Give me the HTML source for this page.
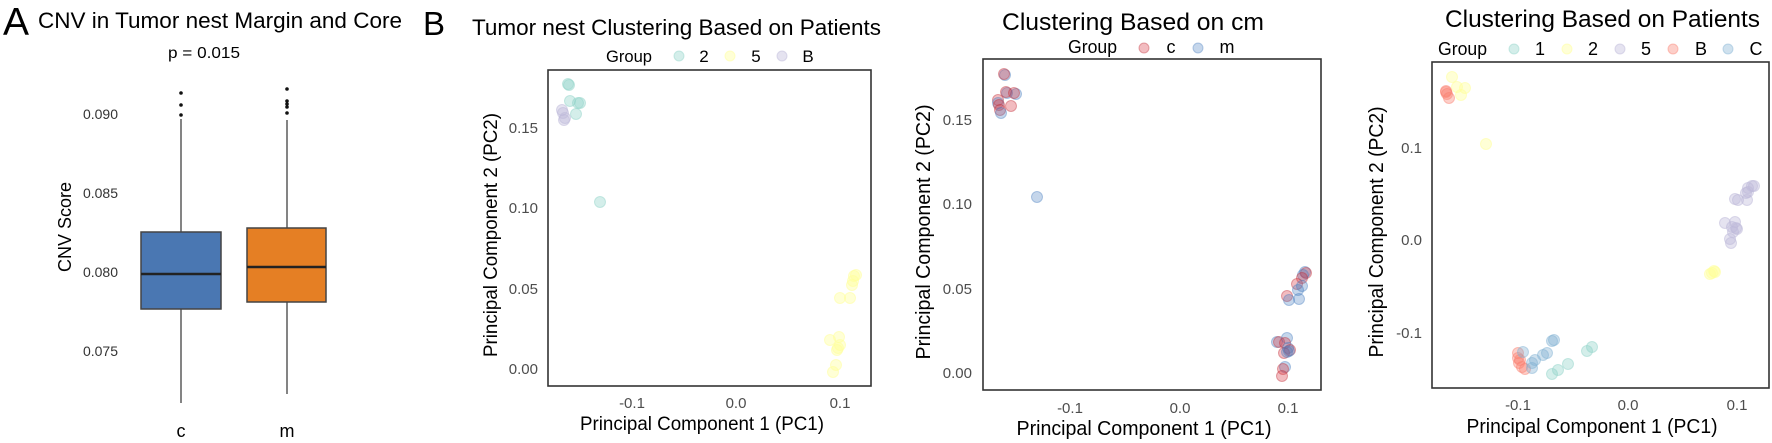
<!DOCTYPE html>
<html><head><meta charset="utf-8"><style>
html,body{margin:0;padding:0;background:#fff;}
svg{display:block;font-family:"Liberation Sans",Arial,sans-serif;}
.tk{font-size:15px;fill:#4d4d4d;}
.g{fill:#8dd3c7;fill-opacity:.38;stroke:#8dd3c7;stroke-opacity:.45;stroke-width:1}
.y{fill:#ffff99;fill-opacity:.4;stroke:#ffff99;stroke-opacity:.5;stroke-width:1}
.p{fill:#bebada;fill-opacity:.4;stroke:#bebada;stroke-opacity:.5;stroke-width:1}
.r{fill:#fb8072;fill-opacity:.38;stroke:#fb8072;stroke-opacity:.45;stroke-width:1}
.b{fill:#80b1d3;fill-opacity:.38;stroke:#80b1d3;stroke-opacity:.45;stroke-width:1}
.c{fill:#d7303a;fill-opacity:.32;stroke:#c0303a;stroke-opacity:.4;stroke-width:1}
.m{fill:#4a7fc0;fill-opacity:.32;stroke:#4a7fc0;stroke-opacity:.4;stroke-width:1}
</style></head><body>
<svg width="1772" height="443" viewBox="0 0 1772 443" xmlns="http://www.w3.org/2000/svg">
<rect width="1772" height="443" fill="#fff"/>

<!-- Panel A -->
<text x="3" y="35" font-size="39" fill="#000">A</text>
<text x="38" y="28" font-size="22" fill="#000" textLength="364" lengthAdjust="spacingAndGlyphs">CNV in Tumor nest Margin and Core</text>
<text x="204" y="58" font-size="16" fill="#000" text-anchor="middle" textLength="72" lengthAdjust="spacingAndGlyphs">p = 0.015</text>
<g font-size="14" fill="#333" text-anchor="end">
<text x="118" y="119">0.090</text>
<text x="118" y="198">0.085</text>
<text x="118" y="277">0.080</text>
<text x="118" y="356">0.075</text>
</g>
<text transform="translate(71,227) rotate(-90)" font-size="18" fill="#000" text-anchor="middle">CNV Score</text>
<g stroke="#666" stroke-width="1.6">
<line x1="181" y1="119" x2="181" y2="232"/><line x1="181" y1="309" x2="181" y2="403"/>
<line x1="287" y1="120" x2="287" y2="228"/><line x1="287" y1="302" x2="287" y2="394"/>
</g>
<rect x="141" y="232" width="80" height="77" fill="#4a77b2" stroke="#444" stroke-width="1.5"/>
<line x1="141" y1="274" x2="221" y2="274" stroke="#222" stroke-width="2.5"/>
<rect x="247" y="228" width="79" height="74" fill="#e57f24" stroke="#444" stroke-width="1.5"/>
<line x1="247" y1="267" x2="326" y2="267" stroke="#222" stroke-width="2.5"/>
<g fill="#111">
<circle cx="181" cy="93" r="1.8"/><circle cx="181" cy="105" r="1.8"/><circle cx="181" cy="115" r="1.8"/>
<circle cx="287" cy="89" r="1.8"/><circle cx="287" cy="101" r="1.8"/><circle cx="287" cy="104" r="1.8"/><circle cx="287" cy="107" r="1.8"/><circle cx="287" cy="113" r="1.8"/>
</g>
<text x="181" y="437" font-size="18" fill="#000" text-anchor="middle">c</text>
<text x="287" y="437" font-size="18" fill="#000" text-anchor="middle">m</text>

<!-- Panel B1 -->
<text x="423" y="35" font-size="33" fill="#000">B</text>
<text x="472" y="35" font-size="22" fill="#000" textLength="409" lengthAdjust="spacingAndGlyphs">Tumor nest Clustering Based on Patients</text>
<g font-size="17" fill="#000">
<text x="606" y="62" textLength="46" lengthAdjust="spacingAndGlyphs">Group</text>
<text x="704" y="62" text-anchor="middle">2</text>
<text x="756" y="62" text-anchor="middle">5</text>
<text x="808" y="62" text-anchor="middle">B</text>
</g>
<circle class="g" cx="679" cy="56" r="5"/><circle class="y" cx="730" cy="56" r="5"/><circle class="p" cx="782" cy="56" r="5"/>
<rect x="548" y="70" width="323" height="316" fill="none" stroke="#333" stroke-width="1.6"/>
<g class="tk" text-anchor="end">
<text x="538" y="133">0.15</text><text x="538" y="213">0.10</text><text x="538" y="294">0.05</text><text x="538" y="374">0.00</text>
</g>
<g class="tk" text-anchor="middle">
<text x="632" y="408">-0.1</text><text x="736" y="408">0.0</text><text x="840" y="408">0.1</text>
</g>
<text x="702" y="430" font-size="19" fill="#000" text-anchor="middle" textLength="244" lengthAdjust="spacingAndGlyphs">Principal Component 1 (PC1)</text>
<text transform="translate(497,235) rotate(-90)" font-size="19" fill="#000" text-anchor="middle" textLength="244" lengthAdjust="spacingAndGlyphs">Principal Component 2 (PC2)</text>
<g>
<circle class="g" cx="568" cy="84" r="5.5"/><circle class="g" cx="569" cy="85" r="5.5"/><circle class="g" cx="570" cy="101" r="5.5"/><circle class="g" cx="578" cy="103" r="5.5"/><circle class="g" cx="580" cy="103" r="5.5"/><circle class="g" cx="576" cy="114" r="5.5"/><circle class="g" cx="600" cy="202" r="5.5"/>
<circle class="p" cx="562" cy="110" r="5.5"/><circle class="p" cx="563" cy="113" r="5.5"/><circle class="p" cx="564" cy="120" r="5.5"/><circle class="p" cx="565" cy="118" r="5.5"/>
<circle class="y" cx="856" cy="275" r="5.5"/><circle class="y" cx="854" cy="276" r="5.5"/><circle class="y" cx="852" cy="285" r="5.5"/><circle class="y" cx="853" cy="281" r="5.5"/><circle class="y" cx="840" cy="298" r="5.5"/><circle class="y" cx="850" cy="298" r="5.5"/>
<circle class="y" cx="830" cy="340" r="5.5"/><circle class="y" cx="839" cy="337" r="5.5"/><circle class="y" cx="838" cy="348" r="5.5"/><circle class="y" cx="840" cy="345" r="5.5"/><circle class="y" cx="837" cy="350" r="5.5"/><circle class="y" cx="836" cy="365" r="5.5"/><circle class="y" cx="833" cy="372" r="5.5"/>
</g>

<!-- Panel B2 -->
<text x="1002" y="30" font-size="24" fill="#000" textLength="262" lengthAdjust="spacingAndGlyphs">Clustering Based on cm</text>
<g font-size="18" fill="#000">
<text x="1068" y="53" textLength="49" lengthAdjust="spacingAndGlyphs">Group</text>
<text x="1171" y="53" text-anchor="middle">c</text>
<text x="1227" y="53" text-anchor="middle">m</text>
</g>
<circle class="c" cx="1144" cy="48" r="5"/><circle class="m" cx="1198" cy="48" r="5"/>
<rect x="983" y="59" width="338" height="331" fill="none" stroke="#333" stroke-width="1.6"/>
<g class="tk" text-anchor="end" font-size="16">
<text x="972" y="125">0.15</text><text x="972" y="209">0.10</text><text x="972" y="294">0.05</text><text x="972" y="378">0.00</text>
</g>
<g class="tk" text-anchor="middle" font-size="16">
<text x="1070" y="413">-0.1</text><text x="1180" y="413">0.0</text><text x="1288" y="413">0.1</text>
</g>
<text x="1144" y="435" font-size="20" fill="#000" text-anchor="middle" textLength="255" lengthAdjust="spacingAndGlyphs">Principal Component 1 (PC1)</text>
<text transform="translate(930,232) rotate(-90)" font-size="20" fill="#000" text-anchor="middle" textLength="255" lengthAdjust="spacingAndGlyphs">Principal Component 2 (PC2)</text>
<g>
<circle class="m" cx="1005" cy="75" r="5.5"/><circle class="c" cx="1004" cy="74" r="5.5"/>
<circle class="m" cx="1007" cy="93" r="5.5"/><circle class="c" cx="1006" cy="92" r="5.5"/>
<circle class="m" cx="1016" cy="94" r="5.5"/><circle class="c" cx="1014" cy="93" r="5.5"/>
<circle class="c" cx="998" cy="100" r="5.5"/><circle class="m" cx="998" cy="103" r="5.5"/><circle class="c" cx="999" cy="105" r="5.5"/>
<circle class="c" cx="1000" cy="110" r="5.5"/><circle class="m" cx="1001" cy="113" r="5.5"/>
<circle class="c" cx="1011" cy="106" r="5.5"/>
<circle class="m" cx="1037" cy="197" r="5.5"/>
<circle class="m" cx="1305" cy="272" r="5.5"/><circle class="c" cx="1306" cy="273" r="5.5"/><circle class="m" cx="1303" cy="275" r="5.5"/><circle class="c" cx="1302" cy="278" r="5.5"/>
<circle class="c" cx="1297" cy="284" r="5.5"/><circle class="m" cx="1302" cy="286" r="5.5"/><circle class="m" cx="1298" cy="290" r="5.5"/>
<circle class="c" cx="1287" cy="296" r="5.5"/><circle class="m" cx="1289" cy="300" r="5.5"/><circle class="m" cx="1299" cy="299" r="5.5"/>
<circle class="m" cx="1277" cy="342" r="5.5"/><circle class="c" cx="1279" cy="342" r="5.5"/><circle class="m" cx="1287" cy="338" r="5.5"/><circle class="c" cx="1285" cy="343" r="5.5"/>
<circle class="m" cx="1288" cy="348" r="5.5"/><circle class="c" cx="1290" cy="350" r="5.5"/><circle class="c" cx="1284" cy="353" r="5.5"/><circle class="m" cx="1287" cy="352" r="5.5"/><circle class="m" cx="1289" cy="351" r="5.5"/>
<circle class="m" cx="1285" cy="367" r="5.5"/><circle class="c" cx="1283" cy="369" r="5.5"/><circle class="c" cx="1282" cy="376" r="5.5"/>
</g>

<!-- Panel B3 -->
<text x="1445" y="27" font-size="24" fill="#000" textLength="315" lengthAdjust="spacingAndGlyphs">Clustering Based on Patients</text>
<g font-size="18" fill="#000">
<text x="1438" y="55" textLength="49" lengthAdjust="spacingAndGlyphs">Group</text>
<text x="1540" y="55" text-anchor="middle">1</text>
<text x="1593" y="55" text-anchor="middle">2</text>
<text x="1646" y="55" text-anchor="middle">5</text>
<text x="1701" y="55" text-anchor="middle">B</text>
<text x="1756" y="55" text-anchor="middle">C</text>
</g>
<circle class="g" cx="1514" cy="49" r="5"/><circle class="y" cx="1567" cy="49" r="5"/><circle class="p" cx="1620" cy="49" r="5"/><circle class="r" cx="1673" cy="49" r="5"/><circle class="b" cx="1728" cy="49" r="5"/>
<rect x="1432" y="62" width="337" height="326" fill="none" stroke="#333" stroke-width="1.6"/>
<g class="tk" text-anchor="end" font-size="16">
<text x="1422" y="153">0.1</text><text x="1422" y="245">0.0</text><text x="1422" y="338">-0.1</text>
</g>
<g class="tk" text-anchor="middle" font-size="16">
<text x="1518" y="410">-0.1</text><text x="1628" y="410">0.0</text><text x="1737" y="410">0.1</text>
</g>
<text x="1592" y="433" font-size="20" fill="#000" text-anchor="middle" textLength="251" lengthAdjust="spacingAndGlyphs">Principal Component 1 (PC1)</text>
<text transform="translate(1383,232) rotate(-90)" font-size="20" fill="#000" text-anchor="middle" textLength="251" lengthAdjust="spacingAndGlyphs">Principal Component 2 (PC2)</text>
<g>
<circle class="y" cx="1452" cy="77" r="5.5"/><circle class="y" cx="1457" cy="87" r="5.5"/><circle class="y" cx="1465" cy="88" r="5.5"/><circle class="y" cx="1461" cy="95" r="5.5"/><circle class="y" cx="1486" cy="144" r="5.5"/>
<circle class="y" cx="1710" cy="274" r="5.5"/><circle class="y" cx="1712" cy="273" r="5.5"/><circle class="y" cx="1715" cy="272" r="5.5"/><circle class="y" cx="1714" cy="271" r="5.5"/>
<circle class="r" cx="1446" cy="91" r="5.5"/><circle class="r" cx="1447" cy="94" r="5.5"/><circle class="r" cx="1449" cy="98" r="5.5"/><circle class="r" cx="1446" cy="92" r="5.5"/>
<circle class="r" cx="1518" cy="353" r="5.5"/><circle class="r" cx="1518" cy="358" r="5.5"/><circle class="r" cx="1520" cy="360" r="5.5"/><circle class="r" cx="1522" cy="367" r="5.5"/><circle class="r" cx="1525" cy="369" r="5.5"/><circle class="r" cx="1519" cy="363" r="5.5"/>
<circle class="b" cx="1523" cy="352" r="5.5"/><circle class="b" cx="1532" cy="363" r="5.5"/><circle class="b" cx="1535" cy="360" r="5.5"/><circle class="b" cx="1532" cy="368" r="5.5"/><circle class="b" cx="1543" cy="355" r="5.5"/><circle class="b" cx="1547" cy="353" r="5.5"/><circle class="b" cx="1552" cy="341" r="5.5"/><circle class="b" cx="1554" cy="340" r="5.5"/>
<circle class="g" cx="1552" cy="374" r="5.5"/><circle class="g" cx="1558" cy="370" r="5.5"/><circle class="g" cx="1568" cy="364" r="5.5"/><circle class="g" cx="1587" cy="351" r="5.5"/><circle class="g" cx="1592" cy="347" r="5.5"/>
<circle class="p" cx="1735" cy="199" r="5.5"/><circle class="p" cx="1738" cy="200" r="5.5"/><circle class="p" cx="1747" cy="200" r="5.5"/><circle class="p" cx="1746" cy="193" r="5.5"/><circle class="p" cx="1748" cy="188" r="5.5"/><circle class="p" cx="1752" cy="186" r="5.5"/><circle class="p" cx="1754" cy="186" r="5.5"/><circle class="p" cx="1748" cy="192" r="5.5"/>
<circle class="p" cx="1725" cy="223" r="5.5"/><circle class="p" cx="1735" cy="222" r="5.5"/><circle class="p" cx="1732" cy="227" r="5.5"/><circle class="p" cx="1737" cy="229" r="5.5"/><circle class="p" cx="1733" cy="232" r="5.5"/><circle class="p" cx="1736" cy="228" r="5.5"/><circle class="p" cx="1730" cy="239" r="5.5"/><circle class="p" cx="1731" cy="243" r="5.5"/>
</g>
</svg>
</body></html>
